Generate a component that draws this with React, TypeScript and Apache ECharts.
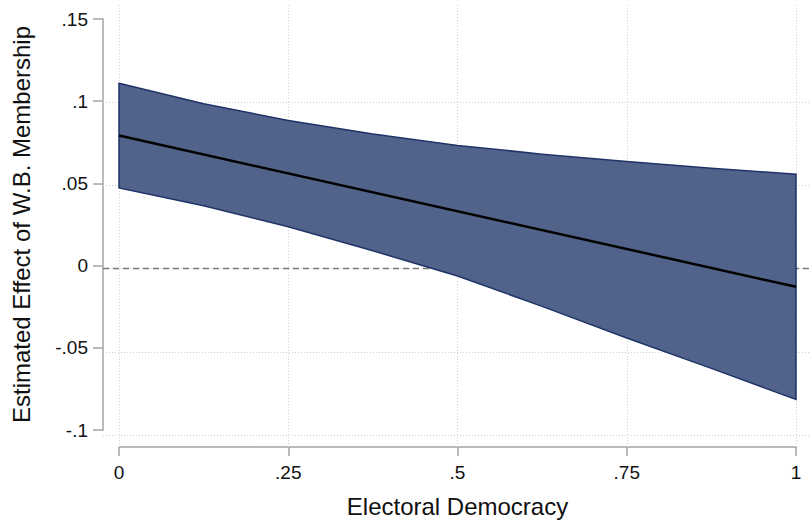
import React, { useEffect, useRef } from "react";
import * as echarts from "echarts";

// Data
const xVals = [0, 0.125, 0.25, 0.375, 0.5, 0.625, 0.75, 0.875, 1];
const upperCI = [0.1109, 0.0985, 0.0883, 0.08, 0.0731, 0.0678, 0.0633, 0.0592, 0.0556];
const lowerCI = [0.0472, 0.0364, 0.0236, 0.009, -0.0063, -0.0248, -0.044, -0.0625, -0.0814];
const centerX = [0, 1];
const centerY = [0.0791, -0.0129];

const xTicks = [0, 0.25, 0.5, 0.75, 1];
const xTickLabels = ["0", ".25", ".5", ".75", "1"];
const yTicks = [-0.1, -0.05, 0, 0.05, 0.1, 0.15];
const yTickLabels = ["-.1", "-.05", "0", ".05", ".1", ".15"];
const yGridValues = [-0.1, -0.05, 0, 0.05, 0.1];

const FONT = "'Liberation Sans', Arial, Helvetica, sans-serif";
const AXIS_COLOR = "#a4a4a4";
const GRID_COLOR = "#cfcfcf";
const BAND_FILL = "#51638a";
const BAND_EDGE = "#1f3368";

function lookup(ticks: number[], labels: string[], v: number) {
  for (let i = 0; i < ticks.length; i++) {
    if (Math.abs(ticks[i] - v) < 1e-9) return labels[i];
  }
  return "";
}

export default function App() {
  const ref = useRef<HTMLDivElement>(null);
  useEffect(() => {
    if (!ref.current) return;
    const chart = echarts.init(ref.current, undefined, { renderer: "svg" });

    const bandData = xVals.map((x, i) => [x, lowerCI[i], upperCI[i]]);

    const option: any = {
      animation: false,
      backgroundColor: "#ffffff",
      grid: [
        { left: 119, right: 14, top: 19, bottom: 88, containLabel: false },
        { left: 103, right: 0, top: 3, bottom: 76, containLabel: false },
      ],
      xAxis: [
        {
          type: "value",
          gridIndex: 0,
          position: "bottom",
          min: 0,
          max: 1,
          interval: 0.25,
          offset: 17,
          name: "Electoral Democracy",
          nameLocation: "middle",
          nameGap: 47,
          nameTextStyle: { fontFamily: FONT, fontSize: 24, color: "#111" },
          axisLine: { show: true, onZero: false, lineStyle: { color: AXIS_COLOR, width: 1.5 } },
          axisTick: { show: true, inside: false, length: 9, lineStyle: { color: AXIS_COLOR, width: 1.5 } },
          axisLabel: {
            show: true,
            margin: 16,
            fontFamily: FONT,
            fontSize: 19,
            color: "#111",
            formatter: (v: number) => lookup(xTicks, xTickLabels, v),
          },
          splitLine: { show: false },
        },
        {
          type: "value",
          gridIndex: 1,
          min: -16 / 677,
          max: 1 + 14 / 677,
          show: false,
        },
      ],
      yAxis: [
        {
          type: "value",
          gridIndex: 0,
          position: "left",
          min: -0.1,
          max: 0.15,
          interval: 0.05,
          offset: 16,
          name: "Estimated Effect of W.B. Membership",
          nameLocation: "middle",
          nameGap: 70,
          nameRotate: 90,
          nameTextStyle: { fontFamily: FONT, fontSize: 24, color: "#111" },
          axisLine: { show: true, onZero: false, lineStyle: { color: AXIS_COLOR, width: 1.5 } },
          axisTick: { show: true, inside: false, length: 10, lineStyle: { color: AXIS_COLOR, width: 1.5 } },
          axisLabel: {
            show: true,
            margin: 15,
            fontFamily: FONT,
            fontSize: 19,
            color: "#111",
            formatter: (v: number) => lookup(yTicks, yTickLabels, v),
          },
          splitLine: { show: false },
        },
        {
          type: "value",
          gridIndex: 1,
          min: -0.1 - 12 / 1664,
          max: 0.15 + 16 / 1664,
          show: false,
        },
      ],
      series: [
        {
          type: "line",
          xAxisIndex: 1,
          yAxisIndex: 1,
          data: [],
          silent: true,
          z: 1,
          markLine: {
            silent: true,
            z: 1,
            symbol: ["none", "none"],
            label: { show: false },
            animation: false,
            data: [
              ...xTicks.map((v) => ({
                xAxis: v,
                lineStyle: { color: GRID_COLOR, type: [1, 2], width: 1 },
              })),
              ...yGridValues.map((v) => ({
                yAxis: v,
                lineStyle: { color: GRID_COLOR, type: [1, 2], width: 1 },
              })),
              {
                yAxis: 0,
                lineStyle: { color: "#7a7a7a", type: [6, 4], width: 1.3 },
              },
            ],
          },
        },
        {
          type: "custom",
          name: "CI",
          xAxisIndex: 0,
          yAxisIndex: 0,
          data: bandData,
          encode: { x: 0, y: [1, 2] },
          z: 3,
          silent: true,
          renderItem: (params: any, api: any) => {
            if (params.dataIndex !== 0) return null;
            const top = bandData.map((d) => api.coord([d[0], d[2]]));
            const bot = bandData.map((d) => api.coord([d[0], d[1]])).reverse();
            return {
              type: "polygon",
              shape: { points: top.concat(bot) },
              style: { fill: BAND_FILL, stroke: BAND_EDGE, lineWidth: 1.5 },
            };
          },
        },
        {
          type: "line",
          name: "Estimate",
          xAxisIndex: 0,
          yAxisIndex: 0,
          data: centerX.map((x, i) => [x, centerY[i]]),
          symbol: "none",
          z: 4,
          lineStyle: { color: "#000000", width: 2.5 },
          silent: true,
        },
      ],
    };

    chart.setOption(option);
    return () => chart.dispose();
  }, []);

  return (
    <div
      ref={ref}
      style={{ position: "fixed", left: 0, top: 0, width: 810, height: 523, background: "#fff" }}
    />
  );
}
